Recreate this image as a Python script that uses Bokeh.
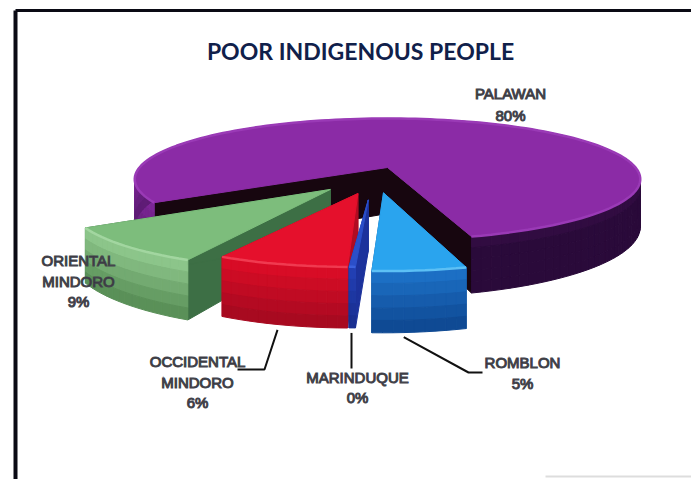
import numpy as np
from bokeh.plotting import figure
from bokeh.models import Range1d
from bokeh.embed import file_html
from bokeh.resources import INLINE

# ---- data ----
categories = ["PALAWAN", "ROMBLON", "MARINDUQUE", "OCCIDENTAL MINDORO", "ORIENTAL MINDORO"]
values = [79.6, 5.0, 0.4, 6.0, 9.0]
value_labels = ["80%", "5%", "0%", "6%", "9%"]

# ---- style ----
top_col = ["#8b2ba6", "#2aa4ee", "#2b4fc9", "#e5102c", "#7dbd7c"]
rim_col = ["#9a3ab6", "#5cc0f5", "#3b62dd", "#f03a50", "#a2d6a0"]
wall_top = ["#7c2696", "#1c6fc4", "#2340b4", "#d80c26", "#8cc58a"]
wall_bot = ["#2a0a3a", "#0f4a94", "#1a2f90", "#a80a20", "#5a9058"]
side_col = ["#17060f", "#13589f", "#1c329c", "#b00c22", "#3d6f45"]
explode_u = [0.0, -0.015, -0.07, -0.11, -0.215]
explode_v = [0.0, 0.40, 0.50, 0.41, 0.35]
radius = [1.0, 0.92, 0.78, 0.87, 0.95]
widen = [1.0, 1.0, 1.0, 1.25, 1.0]   # optical stretch of the photographed perspective

CX, CY, RX, RY, K, DEPTH = 387, 167, 248, 58.5, 0.193, 46
START = 16.0


def proj(u, v, d=0.0):
    s = 1.0 / (1.0 - K * v)
    return CX + RX * u * s, CY + RY * v * s + d * s


def hex2rgb(c):
    return np.array([int(c[i:i + 2], 16) for i in (1, 3, 5)], float)


def lerp(a, b, t):
    r = hex2rgb(a) * (1 - t) + hex2rgb(b) * t
    return "#%02x%02x%02x" % tuple(int(round(x)) for x in r)


W, H = 691, 479
p = figure(width=W, height=H, x_range=Range1d(0, W), y_range=Range1d(H, 0),
           output_backend="svg", toolbar_location=None, min_border=0, outline_line_color=None)
p.axis.visible = False
p.grid.visible = False
p.background_fill_color = "white"
p.border_fill_color = "white"

# frame of the scanned page
p.line([15, 15], [10, H], line_color="#0a0a14", line_width=4)
p.line([15, W], [10, 10], line_color="#0a0a14", line_width=3)
p.line([545, W], [476, 476], line_color="#dddddd", line_width=2)


def draw_slice(i, a0, a1):
    mid_a = (a0 + a1) / 2
    half = (a0 - a1) / 2 * widen[i]
    a0, a1 = mid_a + half, mid_a - half
    n = max(6, int(abs(a1 - a0) / 2))
    th = np.radians(np.linspace(a0, a1, n + 1))
    u0, v0, r = explode_u[i], explode_v[i], radius[i]
    au = u0 + r * np.sin(th)
    av = v0 + r * np.cos(th)
    # flat sides
    for k in (0, -1):
        xs, ys = [], []
        for (uu, vv, d) in ((u0, v0, 0), (au[k], av[k], 0), (au[k], av[k], DEPTH), (u0, v0, DEPTH)):
            x, y = proj(uu, vv, d)
            xs.append(x)
            ys.append(y)
        p.patch(xs, ys, fill_color=side_col[i], line_color=side_col[i], line_width=1)
    # outer wall strips
    bands = 5
    all_x, all_y, cols = [], [], []
    for j in range(n):
        mid = np.degrees((th[j] + th[j + 1]) / 2) % 360
        for b in range(bands):
            d0, d1 = DEPTH * b / bands, DEPTH * (b + 1) / bands
            t = b / (bands - 1)
            if i == 0:
                base = 0.92 if mid < 180 else 0.0
                t = min(1.0, base + 0.35 * t)
            x1, y1 = proj(au[j], av[j], d0)
            x2, y2 = proj(au[j + 1], av[j + 1], d0)
            x3, y3 = proj(au[j + 1], av[j + 1], d1)
            x4, y4 = proj(au[j], av[j], d1)
            all_x.append([x1, x2, x3, x4])
            all_y.append([y1, y2, y3, y4])
            cols.append(lerp(wall_top[i], wall_bot[i], t))
    p.patches(all_x, all_y, fill_color=cols, line_color=cols, line_width=1)
    # top face
    tx, ty = proj(au, av)
    ax, ay = proj(u0, v0)
    p.patch([ax, *tx], [ay, *ty], fill_color=top_col[i], line_color=top_col[i], line_width=1)
    p.line(tx, ty, line_color=rim_col[i], line_width=2.5)
    return proj(u0 + r * np.sin(np.radians(mid_a)), v0 + r * np.cos(np.radians(mid_a)), DEPTH)


# angular extents follow the values, clockwise seen from above, starting at Romblon
total = sum(values)
spans = [v / total * 360 for v in values]
ang = START
extent = {}
for i in [1, 2, 3, 4, 0]:
    extent[i] = (ang, ang - spans[i])
    ang -= spans[i]

anchors = {}
for i in [0, 4, 3, 2, 1]:
    anchors[i] = draw_slice(i, *extent[i])

# leader lines: start under each slice, end beside its label
lead = {
    1: [(468, 372), (482, 372)],
    2: [(351, 368)],
    3: [(264, 369), (237, 369)],
}
lead_start_dx = {1: -16, 2: -6, 3: -4}
for i, pts in lead.items():
    sx, sy = anchors[i]
    sx += lead_start_dx[i]
    xs = [sx] + [q[0] for q in pts]
    ys = [sy + 5] + [q[1] for q in pts]
    if i == 2:
        xs[0] = pts[0][0]
    p.line(xs, ys, line_color="#111111", line_width=2)

# ---- text ----
p.text([360], [50], text=["POOR INDIGENOUS PEOPLE"], text_font={"value": "Lato"}, text_font_style="bold",
       text_font_size="23px", text_color="#10204a", text_align="center", text_baseline="middle")

label_lines = {
    0: (510, [93, 115], ["PALAWAN"]),
    1: (522, [362, 383], ["ROMBLON"]),
    2: (357, [377, 397], ["MARINDUQUE"]),
    3: (197, [361, 382, 402], ["OCCIDENTAL", "MINDORO"]),
    4: (78, [260, 281, 301], ["ORIENTAL", "MINDORO"]),
}
for i, (x, ys, lines) in label_lines.items():
    texts = lines + [value_labels[i]]
    p.text([x] * len(texts), ys, text=texts, text_font={"value": "Liberation Sans"},
           text_font_size="15px", text_color="#1e1e26", text_align="center", text_baseline="middle",
           text_outline_color="#44444c")

open("out.html", "w").write(file_html(p, INLINE))
